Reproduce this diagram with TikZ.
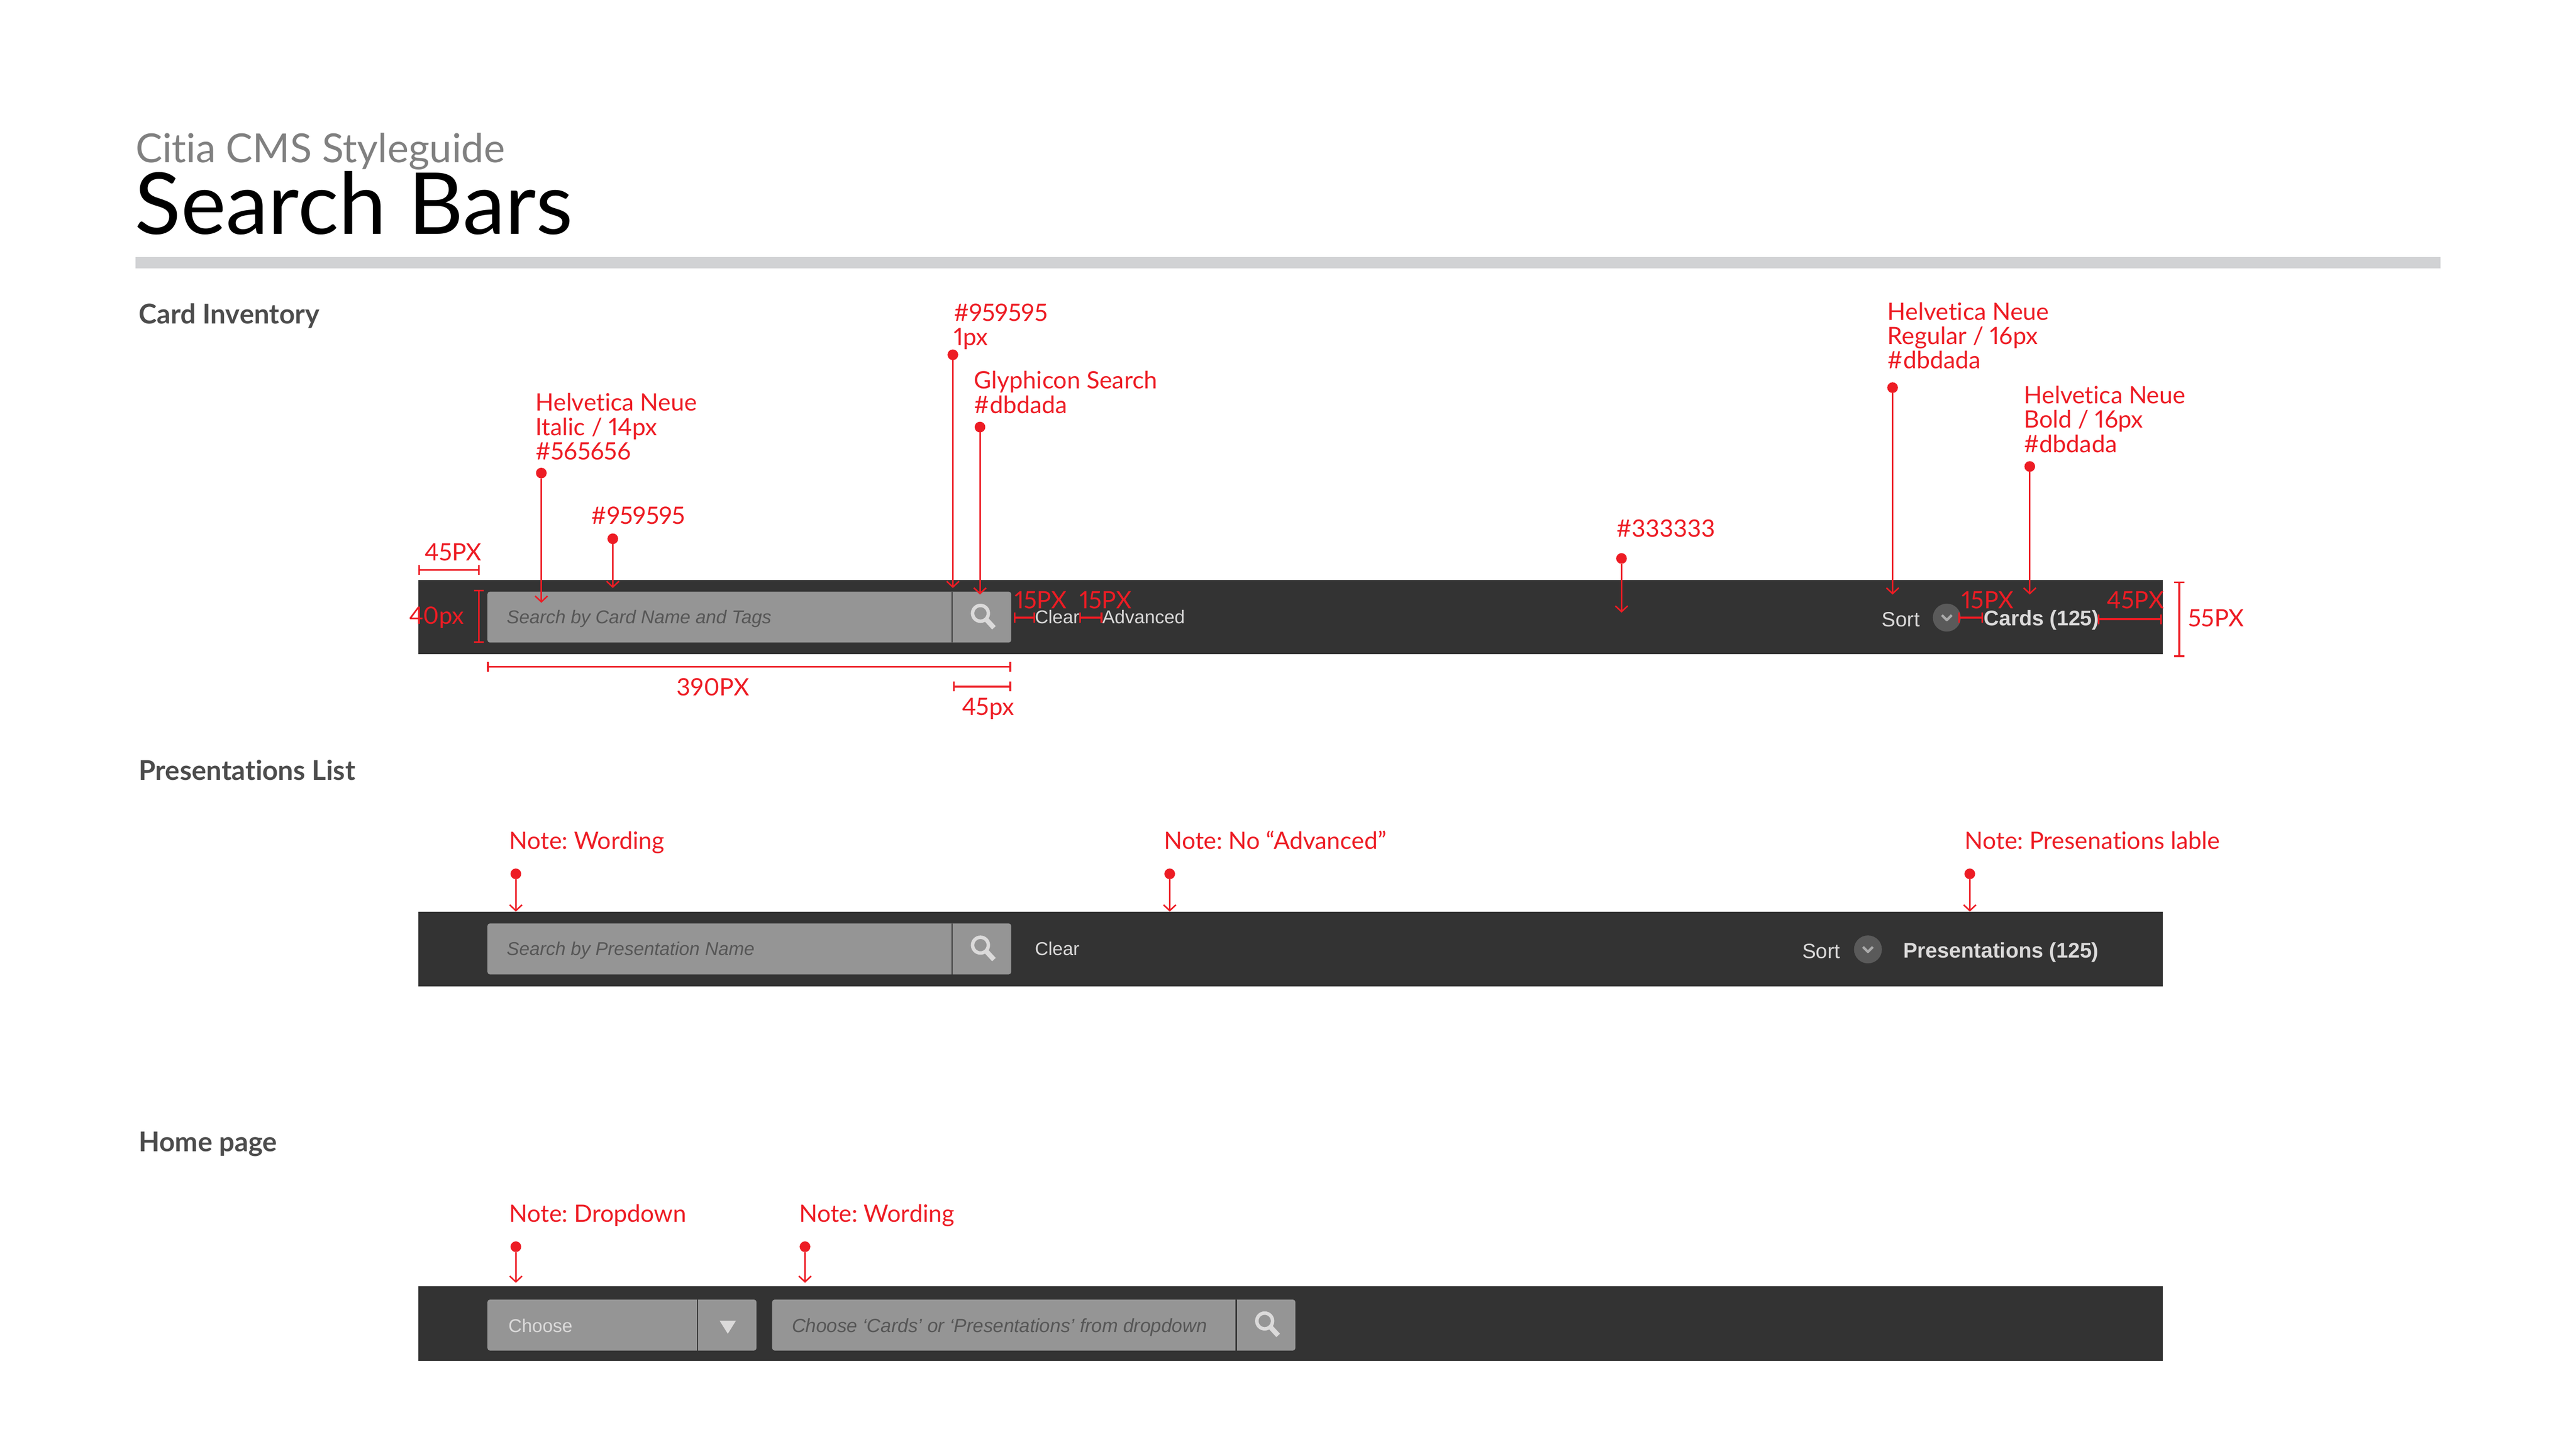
\documentclass[tikz,border=0pt]{standalone}
\usepackage{fontspec}
\setmainfont{Lato}[Ligatures={TeX,NoCommon},Numbers=Proportional]
\newfontfamily\helv{Liberation Sans}
\usetikzlibrary{arrows.meta}
\definecolor{redc}{HTML}{ED1C24}
\definecolor{barc}{HTML}{333333}
\definecolor{fieldc}{HTML}{959595}
\definecolor{holdc}{HTML}{565656}
\definecolor{lightc}{HTML}{DBDADA}
\definecolor{knobc}{HTML}{5A5A5A}
\definecolor{rulec}{HTML}{D1D2D4}
\newcommand{\glass}[2]{
	\draw[lightc,line width=2.1pt] (#1-1.2,#2-1.8) circle (4.8);
	\draw[lightc,line width=3pt] (#1+2.2,#2+1.8)--(#1+7,#2+7);
}
\newcommand{\knob}[2]{
	\fill[knobc] (#1,#2) circle (8.5);
	\draw[fieldc!80!white,line width=1.5pt] (#1-3,#2-1.5)--(#1,#2+1.5)--(#1+3,#2-1.5);
}
\frenchspacing
\begin{document}
\begin{tikzpicture}[x=1pt,y=-1pt,line join=round,>={Straight Barb[length=3.5pt,width=7.5pt]}]
	\tikzset{every node/.style={inner sep=0pt,outer sep=0pt},
		lbl/.style={anchor=base west,text=redc,font=\fontsize{14.6}{15}\selectfont},
		lblm/.style={anchor=north west,align=left,text=redc,font=\fontsize{14.6}{14.8}\selectfont},
		sect/.style={anchor=base west,text=black!70,font=\fontsize{16.6}{18}\selectfont\bfseries},
		hold/.style={anchor=base west,text=holdc,font=\helv\fontsize{11.3}{14}\selectfont\itshape},
		pale/.style={anchor=base west,text=lightc,font=\helv\fontsize{11.3}{14}\selectfont},
		sortl/.style={anchor=base west,text=lightc,font=\helv\fontsize{12.6}{14}\selectfont},
		cnt/.style={anchor=base west,text=lightc,font=\helv\fontsize{12.9}{14}\selectfont\bfseries},
		dotc/.style={circle,fill=redc,minimum size=6.5pt},
		call/.style={redc,line width=.9pt},
		dim/.style={redc,line width=1.05pt,{Bar[width=6pt]}-{Bar[width=6pt]}},
		bar/.style={fill=barc},
		field/.style={fill=fieldc,rounded corners=1.5pt},
		sep/.style={draw=barc,line width=.7pt}}
	\useasboundingbox (0,0) rectangle (1568,882);
	% title
	\node[anchor=base west,text=black!50,font=\fontsize{24.4}{28}\selectfont] (over) at (82.5,99) {Citia CMS Styleguide};
	\node[anchor=base west,text=black,font=\fontsize{52}{54}\selectfont] (title) at (82,142.5) {Search Bars};
	\fill[rulec] (82.5,156.5) rectangle (1485.5,163.5);
	\node[sect] (secA) at (84.5,197) {Card Inventory};
	\node[sect] (secB) at (84.5,475) {Presentations List};
	\node[sect] (secC) at (84.5,701) {Home page};
	% bars
	\foreach \y in {353.2,555.2,783.2}
	\fill[bar] (254.5,\y) rectangle (1316.5,\y+45.2);
	\foreach \y in {360.2,562.2}{
		\fill[field] (296.7,\y) rectangle (615.5,\y+31);
		\draw[sep] (579.5,\y)--(579.5,\y+31);
		\glass{598}{\y+15};
	}
	\fill[field] (296.7,791.2) rectangle (460.5,822.2);
	\draw[sep] (424.5,791.2)--(424.5,822.2);
	\fill[lightc] (438,804)--(448,804)--(443,812)--cycle;
	\fill[field] (470,791.2) rectangle (788.5,822.2);
	\draw[sep] (752.5,791.2)--(752.5,822.2);
	\glass{771}{806};
	\knob{1185}{376}
	\knob{1137}{578}
	% bar texts
	\node[hold] (holdA) at (308.5,379.5) {Search by Card Name and Tags};
	\node[pale] (clearA) at (630,379.5) {Clear};
	\node[pale] (adv) at (671,379.5) {Advanced};
	\node[sortl] (sortA) at (1145.5,381.5) {Sort};
	\node[cnt] (cntA) at (1207.5,381) {Cards (125)};
	\node[hold] (holdB) at (308.5,581.5) {Search by Presentation Name};
	\node[pale] (clearB) at (630,581.5) {Clear};
	\node[sortl] (sortB) at (1097,583.5) {Sort};
	\node[cnt] (cntB) at (1158.5,583) {Presentations (125)};
	\node[pale] (choose) at (309.5,811) {Choose};
	\node[hold,font=\helv\fontsize{11.6}{14}\selectfont\itshape] (holdC) at (482,811) {Choose ‘Cards’ or ‘Presentations’ from dropdown};
	% callouts
	\foreach \n/\x/\ya/\yb in {a/329.5/288/367,b/373/328/358,c/580/216/358,d/596.5/260/362,
		e/987/340/373,f/1152/236/362,g/1235.5/284/362,
		h/314/532/555,i/712/532/555,j/1199/532/555,k/314/759/781,l/490/759/781}{
		\node[dotc] (dot\n) at (\x,\ya) {};
		\coordinate (end\n) at (\x,\yb);
		\draw[->,call] (dot\n)--(end\n);
	}
	\node[lblm] (txta) at (326,239.5) {Helvetica Neue\\Italic / 14px\\\#565656};
	\node[lbl] (txtb) at (360,319) {\#959595};
	\node[lblm] (txtc) at (580.5,185) {\#959595\\1px};
	\node[lblm] (txtd) at (593,226) {Glyphicon Search\\\#dbdada};
	\node[lbl] (txte) at (984,327) {\#333333};
	\node[lblm] (txtf) at (1149,184) {Helvetica Neue\\Regular / 16px\\\#dbdada};
	\node[lblm] (txtg) at (1232,235) {Helvetica Neue\\Bold / 16px\\\#dbdada};
	\node[lbl] (txth) at (310,517) {Note: Wording};
	\node[lbl] (txti) at (708.5,517) {Note: No “Advanced”};
	\node[lbl] (txtj) at (1196,517) {Note: Presenations lable};
	\node[lbl] (txtk) at (310,744) {Note: Dropdown};
	\node[lbl] (txtl) at (486.5,744) {Note: Wording};
	% dimensions
	\foreach \n/\xa/\ya/\xb/\yb in {p/254.5/347/292/347,q/291.5/359/291.5/391.5,r/296.5/406/615.5/406,
		s/580/418/615.5/418,t/617/376/630/376,u/657/376/671/376,v/1192/376/1207/376,
		w/1277/377/1316/377,z/1326.5/354/1326.5/400}{
		\coordinate (from\n) at (\xa,\ya);
		\coordinate (to\n) at (\xb,\yb);
		\draw[dim] (from\n)--(to\n);
	}
	\node[lbl] (dimp) at (258.5,341.5) {45PX};
	\node[lbl] (dimq) at (249,380) {40px};
	\node[lbl] (dimr) at (412,423.5) {390PX};
	\node[lbl] (dims) at (585.5,435.5) {45px};
	\node[lbl] (dimt) at (617.5,370.5) {15PX};
	\node[lbl] (dimu) at (657,370.5) {15PX};
	\node[lbl] (dimv) at (1194,370.5) {15PX};
	\node[lbl] (dimw) at (1282.5,370.5) {45PX};
	\node[lbl] (dimz) at (1332,381.5) {55PX};
\end{tikzpicture}
\end{document}
